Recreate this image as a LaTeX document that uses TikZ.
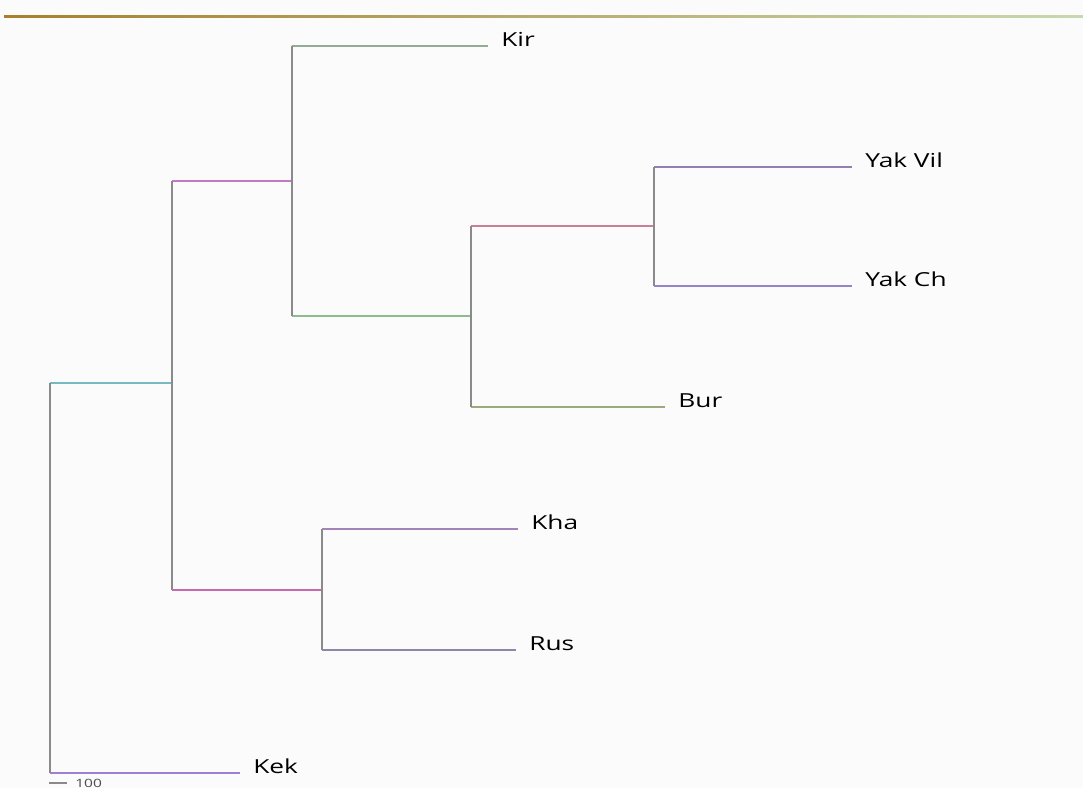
\documentclass[tikz,border=0pt]{standalone}
\usepackage{fontspec}
\newfontfamily\leaffont[FakeStretch=1.36]{Open Sans}
\definecolor{paper}{HTML}{FBFBFB}
\definecolor{stemgray}{HTML}{8A8A8A}
\definecolor{ruleleft}{HTML}{A8802C}
\definecolor{rulemid}{HTML}{D8D070}
\definecolor{ruleright}{HTML}{C8D8B0}
\definecolor{armroot}{HTML}{78B8C0}
\definecolor{armkek}{HTML}{9A80D8}
\definecolor{armab}{HTML}{C07AC8}
\definecolor{armae}{HTML}{C868B0}
\definecolor{armkir}{HTML}{96AA98}
\definecolor{armbc}{HTML}{8CBC8C}
\definecolor{armcd}{HTML}{C88094}
\definecolor{armbur}{HTML}{9AAA7C}
\definecolor{armvil}{HTML}{9080B4}
\definecolor{armch}{HTML}{9484C8}
\definecolor{armkha}{HTML}{A483B8}
\definecolor{armrus}{HTML}{8A88A8}
\begin{document}
\begin{tikzpicture}[
    x=0.02cm,
    y=-0.02cm,
    stem/.style={line width=1.2pt,stemgray},
    arm/.style={line width=1.2pt},
    leaf/.style={anchor=base west,inner xsep=0.26cm,inner ysep=0pt,
        font={\leaffont\fontsize{11pt}{13pt}\selectfont}}
]
    % Blatt und Rand
    \useasboundingbox (0,0) rectangle (1083,788);
    \clip (0,0) rectangle (1083,788);
    \fill[paper] (0,0) rectangle (1083,788);
    \shade[left color=ruleleft,middle color=rulemid,right color=ruleright]
        (4,15.6) rectangle (1083,17.6);

    % Verzweigungspunkte
    \coordinate (r) at (50,383);
    \coordinate (a) at (172,383);
    \coordinate (b) at (292,181);
    \coordinate (c) at (471,316);
    \coordinate (d) at (654,226);
    \coordinate (e) at (322,590);

    % Blaetter
    \node[leaf] (kir) at (488,46) {Kir};
    \node[leaf] (vil) at (852,167) {Yak Vil};
    \node[leaf] (ch) at (852,286) {Yak Ch};
    \node[leaf] (bur) at (665,407) {Bur};
    \node[leaf] (kha) at (518,529) {Kha};
    \node[leaf] (rus) at (516,650) {Rus};
    \node[leaf] (kek) at (240,773) {Kek};

    % Aeste
    \draw[arm,armroot] (r) -- (a);
    \draw[arm,armkek] (r |- kek.base west) -- (kek.base west);
    \draw[arm,armab] (a |- b) -- (b);
    \draw[arm,armae] (a |- e) -- (e);
    \draw[arm,armkir] (b |- kir.base west) -- (kir.base west);
    \draw[arm,armbc] (b |- c) -- (c);
    \draw[arm,armcd] (c |- d) -- (d);
    \draw[arm,armbur] (c |- bur.base west) -- (bur.base west);
    \draw[arm,armvil] (d |- vil.base west) -- (vil.base west);
    \draw[arm,armch] (d |- ch.base west) -- (ch.base west);
    \draw[arm,armkha] (e |- kha.base west) -- (kha.base west);
    \draw[arm,armrus] (e |- rus.base west) -- (rus.base west);

    % Staemme
    \draw[stem] (r) -- (r |- kek.base west);
    \draw[stem] (a |- b) -- (a |- e);
    \draw[stem] (b |- kir.base west) -- (b |- c);
    \draw[stem] (c |- d) -- (c |- bur.base west);
    \draw[stem] (d |- vil.base west) -- (d |- ch.base west);
    \draw[stem] (e |- kha.base west) -- (e |- rus.base west);

    % Massstab
    \coordinate (s0) at (49,783);
    \coordinate (s1) at (67,783);
    \draw[line width=1pt,stemgray] (s0) -- (s1);
    \node[leaf,inner xsep=0.16cm,text=black!70,
        font={\leaffont\fontsize{6.5pt}{8pt}\selectfont}]
        (skala) at (s1 |- 0,787) {100};
\end{tikzpicture}
\end{document}
